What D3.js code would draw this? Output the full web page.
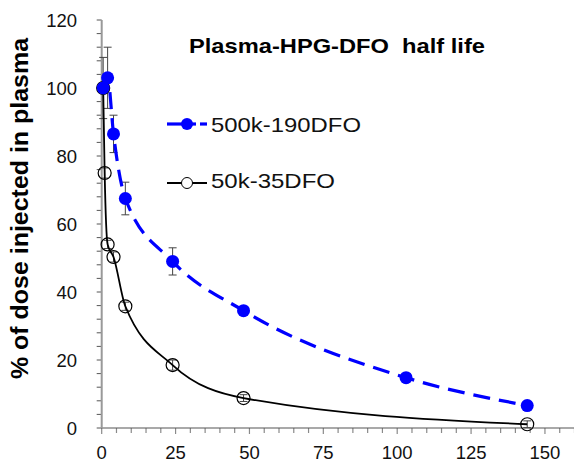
<!DOCTYPE html>
<html>
<head>
<meta charset="utf-8">
<style>
  body { margin: 0; background: #fff; }
  text { font-family: "Liberation Sans", Arial, sans-serif; }
</style>
</head>
<body>
<script src="https://cdn.jsdelivr.net/npm/d3@7"></script>
<script>
// data
let bigTime = [0.5, 2, 4, 8, 24, 48, 103, 144],
    bigVal  = [100, 103, 86.5, 67.5, 49, 34.5, 14.8, 6.6],
    bigErr  = [0, 9, 5.5, 4.8, 4, 0, 0, 0]
let smallTime = [0.5, 1, 2, 4, 8, 24, 48, 144],
    smallVal  = [100, 75, 54, 50.3, 35.8, 18.5, 8.8, 1.1],
    smallErr  = [9, 1.5, 1.2, 1.5, 1.2, 1.5, 1, 1]
let xTicks = [0, 25, 50, 75, 100, 125, 150],
    yTicks = [0, 20, 40, 60, 80, 100, 120]
let seriesNames = ["500k-190DFO", "50k-35DFO"]

let W = 574, H = 466
let svg = d3.select("body").append("svg").attr("width", W).attr("height", H)

let x = d3.scaleLinear().domain([0, 160]).range([101.7, 574.5])
let y = d3.scaleLinear().domain([0, 120]).range([428, 20])

let blue = "#0000ff"

// minor ticks
let xMinor = d3.range(0, 161, 5), yMinor = d3.range(0, 121, 4)
svg.append("g").selectAll("line").data(xMinor).join("line")
    .attr("x1", d => x(d)).attr("x2", d => x(d))
    .attr("y1", y(0)).attr("y2", d => y(0) + (d % 25 == 0 ? 6 : 5))
    .attr("stroke", "#8a8a8a").attr("stroke-width", 1.2)
svg.append("g").selectAll("line").data(yMinor).join("line")
    .attr("x1", x(0) - 5).attr("x2", x(0))
    .attr("y1", d => y(d)).attr("y2", d => y(d))
    .attr("stroke", "#555").attr("stroke-width", 1)

// axis lines
svg.append("line").attr("x1", x(0)).attr("x2", x(160)).attr("y1", y(0)).attr("y2", y(0))
    .attr("stroke", "#555").attr("stroke-width", 1.2)
svg.append("line").attr("x1", x(0)).attr("x2", x(0)).attr("y1", y(0)).attr("y2", y(120))
    .attr("stroke", "#999").attr("stroke-width", 2)

// tick labels
svg.append("g").selectAll("text").data(xTicks).join("text")
    .attr("x", d => x(d)).attr("y", 459.3)
    .attr("text-anchor", "middle").attr("font-size", 18.5).attr("fill", "#111")
    .text(d => d)
svg.append("g").selectAll("text").data(yTicks).join("text")
    .attr("x", 77).attr("y", d => y(d) + 6.5)
    .attr("text-anchor", "end").attr("font-size", 18.5).attr("fill", "#111")
    .text(d => d)

// axis title
svg.append("text")
    .attr("transform", "translate(27.5,208.5) rotate(-90)")
    .attr("text-anchor", "middle").attr("font-size", 24).attr("font-weight", "bold")
    .attr("textLength", 341).attr("lengthAdjust", "spacingAndGlyphs")
    .text("% of dose injected in plasma")

// chart title
svg.append("text").attr("x", 189).attr("y", 53)
    .attr("font-size", 21).attr("font-weight", "bold")
    .attr("textLength", 296).attr("lengthAdjust", "spacingAndGlyphs")
    .style("white-space", "pre")
    .text("Plasma-HPG-DFO  half life")

let line = d3.line().x(d => x(d[0])).y(d => y(d[1])).curve(d3.curveMonotoneX)

let bigPts = bigTime.map((t, i) => [t, bigVal[i], bigErr[i]])
let smallPts = smallTime.map((t, i) => [t, smallVal[i], smallErr[i]])

// error bars
function errBars(pts) {
    let g = svg.append("g").attr("stroke", "#444").attr("stroke-width", 1)
    pts.filter(d => d[2] > 0).forEach(d => {
        g.append("line").attr("x1", x(d[0])).attr("x2", x(d[0]))
            .attr("y1", y(d[1] - d[2])).attr("y2", y(d[1] + d[2]))
        g.append("line").attr("x1", x(d[0]) - 4).attr("x2", x(d[0]) + 4)
            .attr("y1", y(d[1] - d[2])).attr("y2", y(d[1] - d[2]))
        g.append("line").attr("x1", x(d[0]) - 4).attr("x2", x(d[0]) + 4)
            .attr("y1", y(d[1] + d[2])).attr("y2", y(d[1] + d[2]))
    })
}
errBars(bigPts)
errBars(smallPts)

// curves
svg.append("path").datum(smallPts).attr("d", line)
    .attr("fill", "none").attr("stroke", "#000").attr("stroke-width", 1.8)
svg.append("path").datum(bigPts).attr("d", line)
    .attr("fill", "none").attr("stroke", blue).attr("stroke-width", 3.2)
    .attr("stroke-dasharray", "17,9")

// markers
svg.append("g").selectAll("circle").data(smallPts).join("circle")
    .attr("cx", d => x(d[0])).attr("cy", d => y(d[1])).attr("r", 6.5)
    .attr("fill", "none").attr("stroke", "#000").attr("stroke-width", 1.2)
svg.append("g").selectAll("circle").data(bigPts).join("circle")
    .attr("cx", d => x(d[0])).attr("cy", d => y(d[1])).attr("r", 6.5)
    .attr("fill", blue)

// legend
let lg = [{ y: 124, ty: 131.7, w: 150, name: seriesNames[0] },
          { y: 183, ty: 188.3, w: 124, name: seriesNames[1] }]
svg.append("line").attr("x1", 167).attr("x2", 196).attr("y1", lg[0].y).attr("y2", lg[0].y)
    .attr("stroke", blue).attr("stroke-width", 3.2)
svg.append("line").attr("x1", 200).attr("x2", 207).attr("y1", lg[0].y).attr("y2", lg[0].y)
    .attr("stroke", blue).attr("stroke-width", 3.2)
svg.append("circle").attr("cx", 187).attr("cy", lg[0].y).attr("r", 6).attr("fill", blue)
svg.append("line").attr("x1", 167).attr("x2", 207).attr("y1", lg[1].y).attr("y2", lg[1].y)
    .attr("stroke", "#000").attr("stroke-width", 1.8)
svg.append("circle").attr("cx", 187).attr("cy", lg[1].y).attr("r", 5.5)
    .attr("fill", "#fff").attr("stroke", "#000").attr("stroke-width", 1)
svg.append("g").selectAll("text").data(lg).join("text")
    .attr("x", 211).attr("y", d => d.ty)
    .attr("font-size", 21).attr("fill", "#111")
    .attr("textLength", d => d.w).attr("lengthAdjust", "spacingAndGlyphs")
    .text(d => d.name)
</script>
</body>
</html>
